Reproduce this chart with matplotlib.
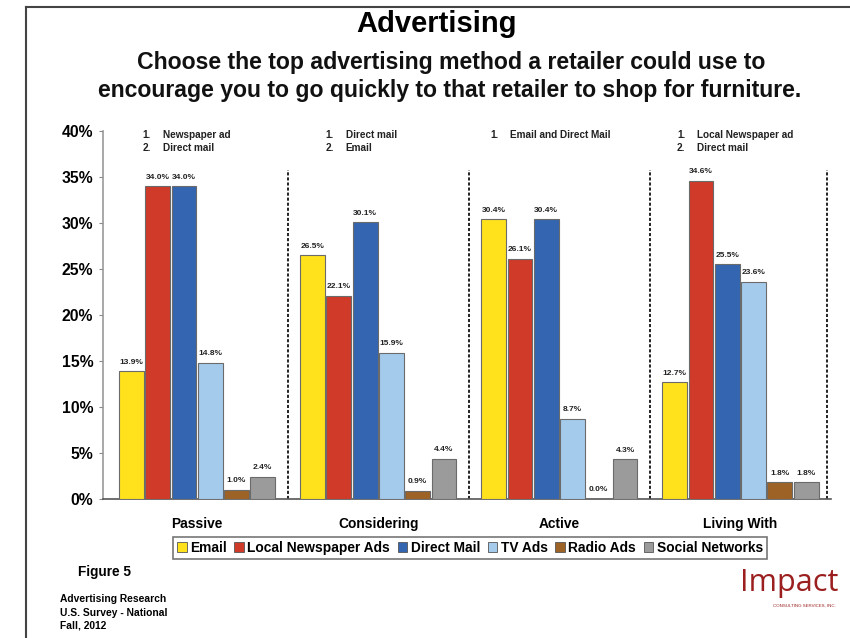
import numpy as np
import matplotlib
matplotlib.use("Agg")
import matplotlib.pyplot as plt
from matplotlib.lines import Line2D

plt.rcParams["font.family"] = ["Liberation Sans", "DejaVu Sans"]

# data
stages = ["Passive", "Considering", "Active", "Living With"]
methods = ["Email", "Local Newspaper Ads", "Direct Mail", "TV Ads", "Radio Ads", "Social Networks"]
email = [13.9, 26.5, 30.4, 12.7]
newspaper = [34.0, 22.1, 26.1, 34.6]
direct_mail = [34.0, 30.1, 30.4, 25.5]
tv_ads = [14.8, 15.9, 8.7, 23.6]
radio_ads = [1.0, 0.9, 0.0, 1.8]
social = [2.4, 4.4, 4.3, 1.8]
top_picks = [
    ["Newspaper ad", "Direct mail"],
    ["Direct mail", "Email"],
    ["Email and Direct Mail"],
    ["Local Newspaper ad", "Direct mail"],
]
colors = ["#FFE21C", "#CF3A29", "#3465B0", "#A5CBEC", "#9C6226", "#9B9B9B"]

series = [email, newspaper, direct_mail, tv_ads, radio_ads, social]

fig = plt.figure(figsize=(8.5, 6.38), dpi=100)
ax = fig.add_axes([103 / 850, 1 - 499 / 638, 728 / 850, 368 / 638])

x = np.arange(len(stages))
pitch = 0.145
width = 0.137
for i, (vals, c) in enumerate(zip(series, colors)):
    pos = x + (i - 2.5) * pitch
    ax.bar(pos, vals, width, color=c, edgecolor="#6b6b6b", linewidth=0.8, zorder=3)
    for px, v in zip(pos, vals):
        ax.text(px, v + 0.6, f"{v:.1f}%", ha="center", va="bottom",
                fontsize=6, fontweight="bold", color="#222222")

# dashed separators between stages
for b in [0.5, 1.5, 2.5, 3.48]:
    ax.plot([b, b], [0, 35.8], color="#222222", lw=1.4, ls=(0, (1.6, 1.0)),
            zorder=2, clip_on=False)

# top picks notes
note_x = [-0.30, -0.29, -0.38, -0.35]
for xi, picks in enumerate(top_picks):
    for k, p in enumerate(picks):
        yy = 39.57 - k * 1.4
        ax.text(xi + note_x[xi], yy, f"{k + 1}.", fontsize=7.2, fontweight="bold",
                va="center", ha="left", color="#222222")
        ax.text(xi + note_x[xi] + 0.11, yy, p, fontsize=7.2, fontweight="bold",
                va="center", ha="left", color="#222222")

ax.set_xlim(-0.52, 3.5)
ax.set_ylim(0, 40)
ax.set_yticks(np.arange(0, 41, 5))
ax.set_yticklabels([f"{t}%" for t in range(0, 41, 5)], fontsize=11.3, fontweight="bold")
ax.set_xticks(x)
ax.set_xticklabels(stages, fontsize=9.9, fontweight="bold")
ax.tick_params(axis="x", length=0, pad=13)
ax.tick_params(axis="y", length=3, color="#888888", pad=4)
for s in ["top", "right"]:
    ax.spines[s].set_visible(False)
ax.spines["left"].set_color("#999999")
ax.spines["left"].set_linewidth(1.2)
ax.spines["bottom"].set_color("#555555")
ax.spines["bottom"].set_linewidth(1.2)

# legend
handles = [plt.Rectangle((0, 0), 1, 1, facecolor=c, edgecolor="#555555", lw=0.6) for c in colors]
leg = fig.legend(handles, methods, loc="center", bbox_to_anchor=(470 / 850, 1 - 548 / 638),
                 ncol=6, prop={"weight": "bold", "size": 9.9},
                 handlelength=0.7, handleheight=0.7, handletextpad=0.25,
                 columnspacing=0.55, borderpad=0.3, fancybox=False,
                 edgecolor="#777777", framealpha=1)
leg.get_frame().set_linewidth(1.2)

# titles
fig.text(437 / 850, 1 - 24 / 638, "Advertising", ha="center", va="center",
         fontsize=21, fontweight="bold")
fig.text(451 / 850, 1 - 62 / 638, "Choose the top advertising method a retailer could use to",
         ha="center", va="center", fontsize=16.6, fontweight="bold", color="#111111")
fig.text(450 / 850, 1 - 91 / 638, "encourage you to go quickly to that retailer to shop for furniture.",
         ha="center", va="center", fontsize=16.6, fontweight="bold", color="#111111")

# footer
fig.text(78 / 850, 1 - 572 / 638, "Figure 5", ha="left", va="center", fontsize=9.8, fontweight="bold")
for k, line in enumerate(["Advertising Research", "U.S. Survey - National", "Fall, 2012"]):
    fig.text(60 / 850, 1 - (599 + 13.5 * k) / 638, line, ha="left", va="center",
             fontsize=7.4, fontweight="bold")
fig.text(838 / 850, 1 - 583 / 638, "Impact", ha="right", va="center", fontsize=22,
         color="#9B1F1F", family=["Open Sans", "DejaVu Sans"])
fig.text(836 / 850, 1 - 606 / 638, "CONSULTING SERVICES, INC.", ha="right", va="center",
         fontsize=3.2, color="#9B1F1F")

# outer frame (top and left)
fig.add_artist(Line2D([26 / 850, 1], [1 - 7 / 638, 1 - 7 / 638], color="#444444", lw=1.5))
fig.add_artist(Line2D([26 / 850, 26 / 850], [0, 1 - 7 / 638], color="#444444", lw=1.5))

fig.savefig("out.png", dpi=100)
